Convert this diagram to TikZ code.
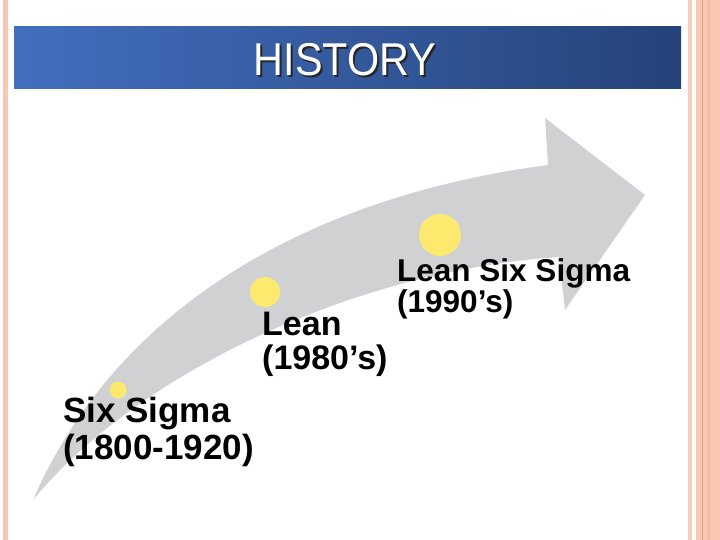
\documentclass[tikz,border=0pt]{standalone}
\usepackage{fontspec}
\setmainfont{Liberation Sans}
\usepackage{graphicx}
\definecolor{arrowgray}{HTML}{D0D1D3}
\definecolor{dotyellow}{HTML}{FDE96E}
\definecolor{pinkA}{HTML}{F9C8B4}
\definecolor{pinkB}{HTML}{F6CDBE}
\definecolor{pinkC}{HTML}{F4BBA5}
\definecolor{pinkD}{HTML}{E5A17F}
\definecolor{bannerL}{HTML}{4673C6}
\definecolor{bannerR}{HTML}{1F3A6C}
\pgfdeclarehorizontalshading{bannershade}{100bp}{color(0bp)=(bannerL!92!white); color(12bp)=(bannerL); color(20bp)=(bannerL); color(85bp)=(bannerR); color(100bp)=(bannerR)}
\tikzset{
  dotnode/.style={circle, fill=dotyellow, inner sep=0pt},
  lbl/.style={anchor=base west, inner sep=0pt, text=black},
  titletext/.style={font=\fontsize{46}{46}\selectfont, anchor=base, inner sep=0pt}
}
\begin{document}
\begin{tikzpicture}[x=1pt,y=-1pt]
\useasboundingbox (0,0) rectangle (720,540);
\fill[white] (0,0) rectangle (720,540);
% page borders
\fill[pinkA] (3,0) rectangle (8,540);
\fill[pinkB] (688,0) rectangle (692,540);
\fill[pinkA] (696,0) rectangle (720,540);
\fill[pinkC] (707,0) rectangle (710,540);
\fill[pinkD] (701.5,0) rectangle (703,540);
% banner
\shade[shading=bannershade] (14,27) rectangle (681,89);
\node[titletext, text=black!85] (titleshadow) at (347,78) {\scalebox{0.9}[1]{HISTORY}};
\node[titletext, text=white] (title) at (345,76) {\scalebox{0.9}[1]{HISTORY}};
% curved arrow
\fill[arrowgray] (33,500) .. controls (120,300) and (320,195) .. (548,165)
  -- (545,118) -- (645,195) -- (565,310) -- (559,257)
  .. controls (360,270) and (140,370) .. (33,500) -- cycle;
% milestones
\node[dotnode, minimum size=17pt] (d1) at (118,390) {};
\node[dotnode, minimum size=30pt] (d2) at (265,292) {};
\node[dotnode, minimum size=42pt] (d3) at (440,235) {};
% labels
\node[lbl, font=\fontsize{35}{35}\selectfont\bfseries] (t1a) at (63,422) {Six Sigma};
\node[lbl, font=\fontsize{35}{35}\selectfont\bfseries] (t1b) at (63,459) {(1800-1920)};
\node[lbl, font=\fontsize{34}{34}\selectfont\bfseries] (t2a) at (262,335) {Lean};
\node[lbl, font=\fontsize{34}{34}\selectfont\bfseries] (t2b) at (262,369) {(1980’s)};
\node[lbl, font=\fontsize{31.5}{31.5}\selectfont\bfseries] (t3a) at (397,281) {Lean Six Sigma};
\node[lbl, font=\fontsize{31.5}{31.5}\selectfont\bfseries] (t3b) at (397,312) {(1990’s)};
\end{tikzpicture}
\end{document}
